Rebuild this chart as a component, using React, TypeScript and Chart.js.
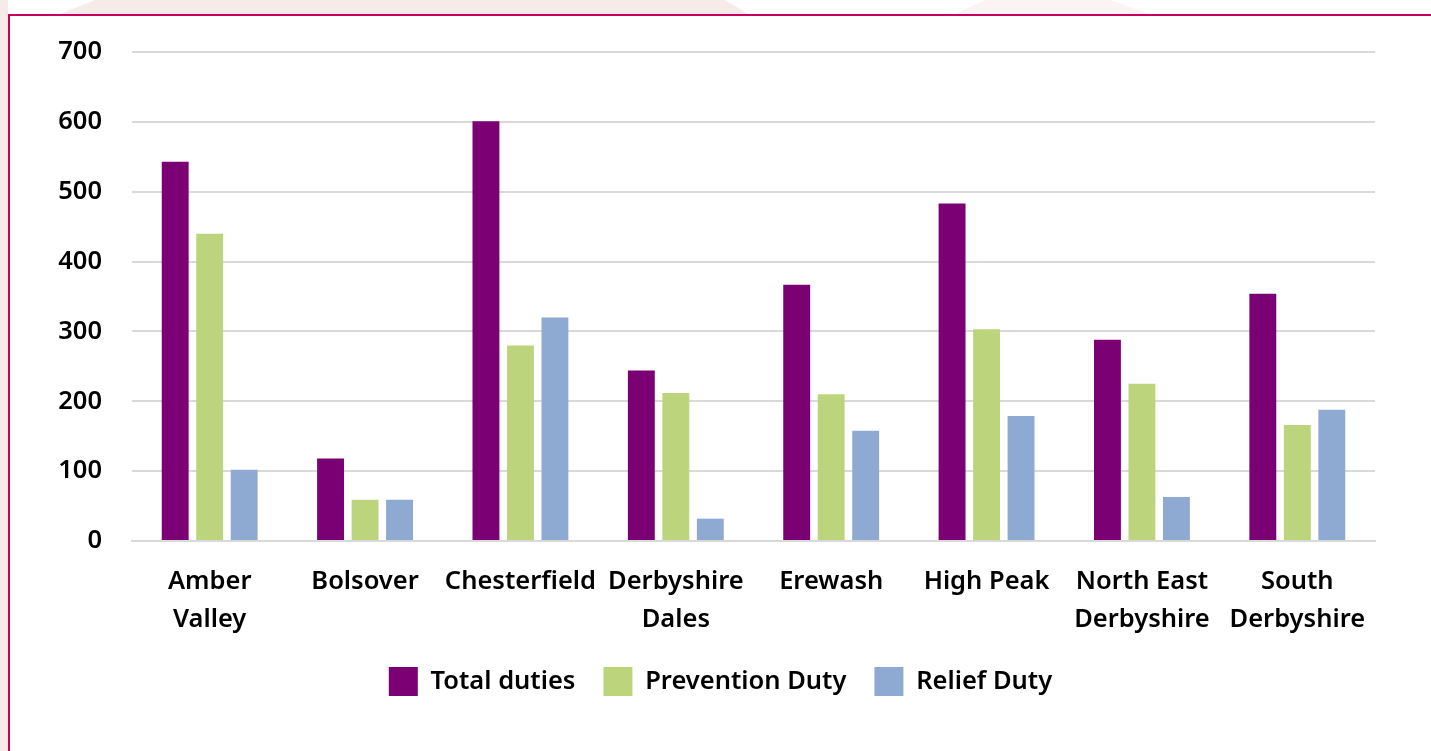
import { useEffect, useRef } from "react";
import { Chart, registerables } from "chart.js";

Chart.register(...registerables);

const categories: (string | string[])[] = [
  ["Amber", "Valley"],
  "Bolsover",
  "Chesterfield",
  ["Derbyshire", "Dales"],
  "Erewash",
  "High Peak",
  ["North East", "Derbyshire"],
  ["South", "Derbyshire"],
];
const totalDuties = [543, 118, 601, 244, 367, 483, 288, 354];
const preventionDuty = [440, 59, 280, 212, 210, 303, 225, 166];
const reliefDuty = [102, 59, 320, 32, 158, 179, 63, 188];
const seriesNames = ["Total duties", "Prevention Duty", "Relief Duty"];
const seriesColors = ["#7b0073", "#bcd57c", "#8faad2"];
const yMax = 700;
const yStep = 100;

const FONT = "'Noto Sans', 'Open Sans', sans-serif";
const FS = 25.5;

const legendShift = {
  id: "legendShift",
  afterLayout(chart: any) {
    const l = chart.legend;
    if (l) {
      l.left += 28;
      l.right += 28;
    }
  },
};

export default function App() {
  const ref = useRef<HTMLCanvasElement | null>(null);

  useEffect(() => {
    if (!ref.current) return;
    const chart = new Chart(ref.current, {
      type: "bar",
      data: {
        labels: categories,
        datasets: [totalDuties, preventionDuty, reliefDuty].map((d, i) => ({
          label: seriesNames[i],
          data: d,
          backgroundColor: seriesColors[i],
          borderWidth: 0,
          categoryPercentage: 0.666,
          barPercentage: 0.78,
        })),
      },
      plugins: [legendShift],
      options: {
        animation: false,
        responsive: false,
        maintainAspectRatio: false,
        layout: { padding: { top: 36, right: 56, bottom: 45, left: 0 } },
        plugins: {
          tooltip: { enabled: false },
          legend: {
            position: "bottom",
            labels: {
              boxWidth: 29,
              boxHeight: 29,
              padding: 28,
              color: "#000",
              font: { family: FONT, size: FS, weight: 600 },
            },
          },
        },
        scales: {
          x: {
            afterFit: (s: any) => {
              s.height = s.height - 22;
            },
            grid: { display: false, drawTicks: false },
            border: { display: true, color: "#d9d9d9", width: 2 },
            ticks: {
              color: "#000",
              padding: 22,
              maxRotation: 0,
              autoSkip: false,
              font: { family: FONT, size: FS, weight: 600, lineHeight: 1.49 },
            },
          },
          y: {
            min: 0,
            max: yMax,
            afterFit: (s: any) => {
              s.width = 122;
              s.paddingTop = 0;
              s.paddingBottom = 0;
            },
            grid: { color: "#d9d9d9", lineWidth: 2, drawTicks: false },
            border: { display: false },
            ticks: {
              stepSize: yStep,
              color: "#000",
              padding: 30,
              font: { family: FONT, size: FS, weight: 600 },
            },
          },
        },
      },
    });
    return () => chart.destroy();
  }, []);

  return (
    <div
      style={{
        position: "fixed",
        left: 0,
        top: 0,
        width: 1431,
        height: 751,
        background: "#fff",
        overflow: "hidden",
      }}
    >
      <div
        style={{
          position: "absolute",
          left: 0,
          top: 0,
          width: 8,
          height: 751,
          background: "#f7ebea",
        }}
      />
      <div
        style={{
          position: "absolute",
          left: 0,
          top: 0,
          width: 1431,
          height: 14,
          background: "#f7ebea",
          clipPath: "polygon(60px 14px, 95px 0px, 725px 0px, 748px 14px)",
        }}
      />
      <div
        style={{
          position: "absolute",
          left: 0,
          top: 0,
          width: 1431,
          height: 14,
          background: "#fbf4f3",
          clipPath: "polygon(955px 14px, 985px 0px, 1110px 0px, 1150px 14px)",
        }}
      />
      <div
        style={{
          position: "absolute",
          left: 8,
          top: 14,
          width: 1423,
          height: 737,
          borderTop: "2px solid #c8005f",
          borderLeft: "2px solid #c8005f",
          boxSizing: "border-box",
          background: "#fff",
        }}
      >
        <canvas ref={ref} width={1421} height={735} style={{ display: "block" }} />
      </div>
    </div>
  );
}
